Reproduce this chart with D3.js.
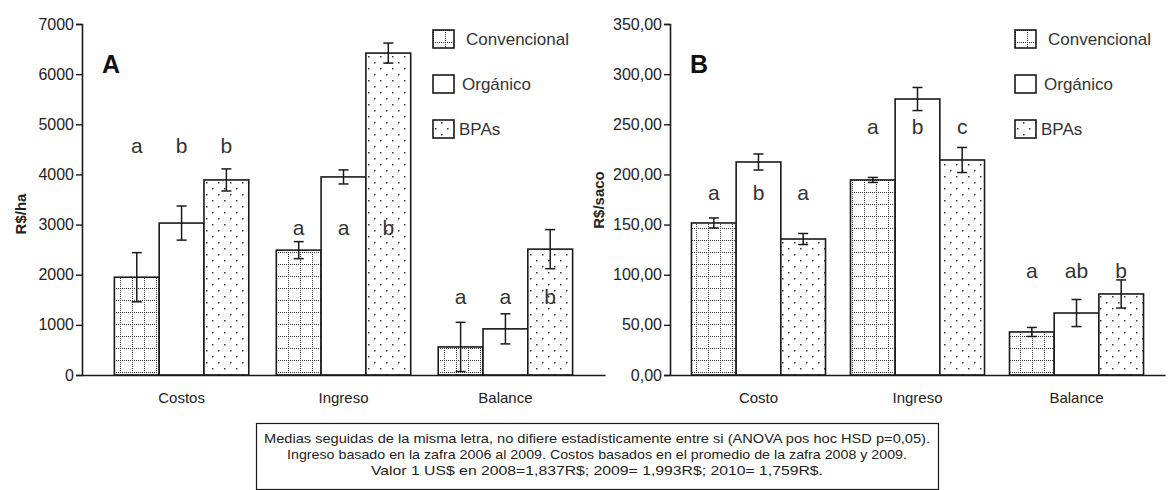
<!DOCTYPE html>
<html lang="es">
  <head>
    <title>Costos e ingresos</title>
    <meta charset="utf-8">
    <script src="https://d3js.org/d3.v7.min.js"></script>
    <style>
      body { margin: 0; background: #fff; }
      svg text { font-family: "Liberation Sans", Arial, sans-serif; fill: #222; }
    </style>
  </head>
  <body>
    <div id="chart"></div>
    <script>
      // series names (legend order)
      const groups = ["Convencional", "Orgánico", "BPAs"];

      // panel A - R$/ha
      const catsA = ["Costos", "Ingreso", "Balance"];
      const convA = [1950, 2490, 560];
      const orgA = [3030, 3950, 920];
      const bpaA = [3890, 6420, 2510];
      const convErrA = [490, 170, 490];
      const orgErrA = [340, 140, 300];
      const bpaErrA = [220, 200, 390];
      const lettersA = [["a", "b", "b"], ["a", "a", "b"], ["a", "a", "b"]];
      const letterLevelA = [4570, 2930, 1560]; // letter heights in axis units
      const ticksA = [0, 1000, 2000, 3000, 4000, 5000, 6000, 7000];

      // panel B - R$/saco
      const catsB = ["Costo", "Ingreso", "Balance"];
      const convB = [151.6, 194.5, 42.9];
      const orgB = [212.4, 275.2, 61.8];
      const bpaB = [135.6, 214.4, 80.8];
      const convErrB = [5, 2.5, 4.5];
      const orgErrB = [8, 11.5, 13.5];
      const bpaErrB = [5.5, 12.5, 14];
      const lettersB = [["a", "b", "a"], ["a", "b", "c"], ["a", "ab", "b"]];
      const letterLevelB = [182, 248, 104];
      const ticksB = [0, 50, 100, 150, 200, 250, 300, 350];

      const noteLines = [
        "Medias seguidas de la misma letra, no difiere estadísticamente entre si (ANOVA pos hoc HSD p=0,05).",
        "Ingreso basado en la zafra 2006 al 2009. Costos basados en el promedio de la zafra 2008 y 2009.",
        "Valor 1 US$ en 2008=1,837R$; 2009= 1,993R$; 2010= 1,759R$."
      ];

      const W = 1176, H = 490;
      const ink = "#1a1a1a";

      const svg = d3.select("#chart").append("svg")
        .attr("width", W).attr("height", H);

      // fill patterns
      const defs = svg.append("defs");
      const grid = defs.append("pattern").attr("id", "pat-conv")
        .attr("patternUnits", "userSpaceOnUse").attr("width", 12).attr("height", 12);
      grid.append("rect").attr("width", 12).attr("height", 12).attr("fill", "#fff");
      for (let i = 0; i < 12; i += 2) {
        grid.append("rect").attr("x", i).attr("y", 0).attr("width", 1).attr("height", 1).attr("fill", "#333");
        grid.append("rect").attr("x", 0).attr("y", i).attr("width", 1).attr("height", 1).attr("fill", "#333");
      }
      const dots = defs.append("pattern").attr("id", "pat-bpa")
        .attr("patternUnits", "userSpaceOnUse").attr("width", 12).attr("height", 12);
      dots.append("rect").attr("width", 12).attr("height", 12).attr("fill", "#fff");
      dots.append("rect").attr("x", 2).attr("y", 2).attr("width", 1.5).attr("height", 1.5).attr("fill", "#333");
      dots.append("rect").attr("x", 8).attr("y", 8).attr("width", 1.5).attr("height", 1.5).attr("fill", "#333");

      const fills = ["url(#pat-conv)", "#fff", "url(#pat-bpa)"];

      function drawPanel(p) {
        const g = svg.append("g");

        const y = d3.scaleLinear().domain([0, p.ticks[p.ticks.length - 1]]).range([375, 24]);
        const x = d3.scaleBand().domain(p.cats).range([p.x0, p.x1])
          .paddingInner(p.padIn).paddingOuter(p.padOut);
        const xs = d3.scaleBand().domain(groups).range([0, x.bandwidth()]);

        const series = [p.conv, p.org, p.bpa];
        const errs = [p.convErr, p.orgErr, p.bpaErr];

        // bars
        groups.forEach((s, si) => {
          g.append("g").selectAll("rect")
            .data(p.cats)
            .join("rect")
              .attr("x", (c) => x(c) + xs(s))
              .attr("y", (c, ci) => y(series[si][ci]))
              .attr("width", xs.bandwidth())
              .attr("height", (c, ci) => y(0) - y(series[si][ci]))
              .attr("fill", fills[si])
              .attr("stroke", ink)
              .attr("stroke-width", 1.6);
        });

        // error bars
        groups.forEach((s, si) => {
          p.cats.forEach((c, ci) => {
            const cx = x(c) + xs(s) + xs.bandwidth() / 2;
            const hi = y(series[si][ci] + errs[si][ci]);
            const lo = y(series[si][ci] - errs[si][ci]);
            const eb = g.append("g").attr("stroke", ink).attr("stroke-width", 1.5);
            eb.append("line").attr("x1", cx).attr("x2", cx).attr("y1", hi).attr("y2", lo);
            eb.append("line").attr("x1", cx - 5).attr("x2", cx + 5).attr("y1", hi).attr("y2", hi);
            eb.append("line").attr("x1", cx - 5).attr("x2", cx + 5).attr("y1", lo).attr("y2", lo);
          });
        });

        // significance letters
        p.cats.forEach((c, ci) => {
          groups.forEach((s, si) => {
            g.append("text")
              .attr("x", x(c) + xs(s) + xs.bandwidth() / 2)
              .attr("y", y(p.levels[ci]))
              .attr("dy", "0.35em")
              .attr("text-anchor", "middle")
              .style("font-size", "21px")
              .style("fill", "#333")
              .text(p.letters[ci][si]);
          });
        });

        // y axis
        const ya = g.append("g")
          .attr("transform", `translate(${p.x0},0)`)
          .call(d3.axisLeft(y).tickValues(p.ticks).tickSize(6).tickPadding(2).tickFormat(p.fmt));
        ya.select(".domain").attr("stroke", ink).attr("stroke-width", 1.6);
        ya.selectAll(".tick line").attr("stroke", ink).attr("stroke-width", 1.4);
        ya.selectAll(".tick text").style("font-size", "16px").style("font-family", "Liberation Sans, Arial, sans-serif").attr("fill", "#333");

        // x axis
        const xa = g.append("g")
          .attr("transform", `translate(0,${y(0)})`)
          .call(d3.axisBottom(x).tickSize(0).tickPadding(17));
        xa.select(".domain").attr("stroke", ink).attr("stroke-width", 1.6);
        xa.selectAll(".tick text").style("font-size", "15px").style("font-family", "Liberation Sans, Arial, sans-serif").attr("fill", "#333");

        // y title
        g.append("text")
          .attr("transform", `translate(${p.titleX},${p.titleY}) rotate(-90)`)
          .attr("text-anchor", "middle")
          .style("font-size", "15px")
          .style("font-weight", "bold")
          .text(p.title);

        // panel letter
        g.append("text")
          .attr("x", p.x0 + 20).attr("y", 73)
          .style("font-size", "25px")
          .style("font-weight", "bold")
          .style("fill", "#111")
          .text(p.panel);

        // legend
        const lg = g.append("g").attr("transform", `translate(${p.legX},30)`);
        groups.forEach((s, si) => {
          lg.append("rect")
            .attr("x", 0).attr("y", si * 45)
            .attr("width", 21).attr("height", 18)
            .attr("fill", fills[si])
            .attr("stroke", ink).attr("stroke-width", 1.6);
          lg.append("text")
            .attr("x", [33, 29, 26][si]).attr("y", si * 45 + 9)
            .attr("dy", "0.35em")
            .style("font-size", "17px")
            .style("fill", "#333")
            .text(s);
        });
      }

      drawPanel({
        panel: "A", title: "R$/ha", titleX: 26, titleY: 214,
        cats: catsA, conv: convA, org: orgA, bpa: bpaA,
        convErr: convErrA, orgErr: orgErrA, bpaErr: bpaErrA,
        letters: lettersA, levels: letterLevelA, ticks: ticksA,
        fmt: d3.format("d"),
        x0: 82, x1: 605, padIn: 0.17, padOut: 0.2, legX: 433
      });

      drawPanel({
        panel: "B", title: "R$/saco", titleX: 604, titleY: 200,
        cats: catsB, conv: convB, org: orgB, bpa: bpaB,
        convErr: convErrB, orgErr: orgErrB, bpaErr: bpaErrB,
        letters: lettersB, levels: letterLevelB, ticks: ticksB,
        fmt: (d) => d3.format(".2f")(d).replace(".", ","),
        x0: 670, x1: 1165, padIn: 0.157, padOut: 0.135, legX: 1015
      });

      // footnote box
      const note = svg.append("g");
      note.append("rect")
        .attr("x", 256.5).attr("y", 423.5).attr("width", 682).attr("height", 66)
        .attr("fill", "#fff").attr("stroke", ink).attr("stroke-width", 1.2);
      const noteW = [666, 620, 452];
      noteLines.forEach((t, i) => {
        note.append("text")
          .attr("x", 597).attr("y", 438 + i * 16)
          .attr("dy", "0.35em")
          .attr("text-anchor", "middle")
          .attr("textLength", noteW[i])
          .attr("lengthAdjust", "spacingAndGlyphs")
          .style("font-size", "13.5px")
          .style("fill", "#222")
          .text(t);
      });
    </script>
  </body>
</html>
